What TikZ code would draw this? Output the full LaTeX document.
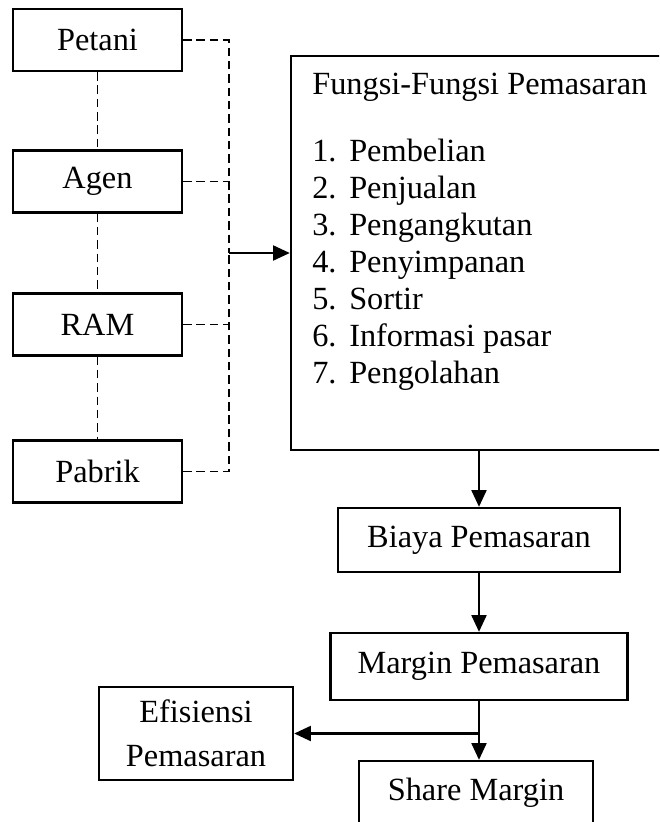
\documentclass[tikz,border=0pt]{standalone}
\usepackage{fontspec}
\setmainfont{Liberation Serif}
\usepackage{tikz}
\usetikzlibrary{arrows.meta}
\newcommand{\nomor}[1]{\makebox[26.3pt][l]{#1}}
\tikzset{
  kotak/.style={draw, line width=1.5pt, inner sep=0pt, align=center},
  panah/.style={line width=2pt, -{Triangle[length=12pt,width=10.5pt]}},
  putus/.style={line width=1.4pt, dash pattern=on 6pt off 3.5pt}
}

\begin{document}
\begin{tikzpicture}[x=0.025cm, y=-0.025cm, font=\fontsize{23pt}{26.3pt}\selectfont]
      \path [use as bounding box, clip] (0,0) rectangle (659,822);
      \node [kotak, minimum width=4.225cm, minimum height=1.55cm] (petani) at (97.5,40) {Petani};
      \node [kotak, minimum width=4.225cm, minimum height=1.55cm] (agen) at (97.5,181.5) {Agen};
      \node [kotak, minimum width=4.225cm, minimum height=1.55cm] (ram) at (97.5,324.5) {RAM};
      \node [kotak, minimum width=4.225cm, minimum height=1.55cm] (pabrik) at (97.5,471.5) {Pabrik};
      \draw [putus] (petani) -- (agen);
      \draw [putus] (agen) -- (ram);
      \draw [putus] (ram) -- (pabrik);
      \node [kotak, minimum width=9.4cm, minimum height=9.85cm] (fungsi) at (479,253) {};
      \node [anchor=north west, inner sep=0pt, align=left] (isi) at (312,73) {Fungsi-Fungsi Pemasaran\\[21pt]
        \nomor{1.}Pembelian\\
        \nomor{2.}Penjualan\\
        \nomor{3.}Pengangkutan\\
        \nomor{4.}Penyimpanan\\
        \nomor{5.}Sortir\\
        \nomor{6.}Informasi pasar\\
        \nomor{7.}Pengolahan};
      \coordinate (bus) at (229,0);
      \draw [putus] (petani.east) -| (bus |- fungsi.west);
      \draw [putus] (pabrik.east) -| (bus |- fungsi.west);
      \draw [putus] (agen.east) -- (agen.east -| bus);
      \draw [putus] (ram.east) -- (ram.east -| bus);
      \draw [panah] (bus |- fungsi.west) -- (fungsi.west);
      \node [kotak, minimum width=7.05cm, minimum height=1.6cm] (biaya) at (479,540) {Biaya Pemasaran};
      \draw [panah] (fungsi.south) -- (fungsi.south |- biaya.north);
      \node [kotak, minimum width=7.425cm, minimum height=1.675cm] (margin) at (479,666.5) {Margin Pemasaran};
      \draw [panah] (biaya.south) -- (biaya.south |- margin.north);
      \node [kotak, minimum width=5.85cm, minimum height=1.6cm] (share) at (476,793) {Share Margin};
      \draw [panah] (margin.south) -- (margin.south |- share.north);
      \node [kotak, minimum width=4.85cm, minimum height=2.325cm] (efisiensi) at (196,733.5) {Efisiensi\\[5pt]Pemasaran};
      \coordinate (cabang) at (margin.south |- efisiensi.east);
      \draw [panah] (cabang) -- (efisiensi.east);
   \end{tikzpicture}
\end{document}
